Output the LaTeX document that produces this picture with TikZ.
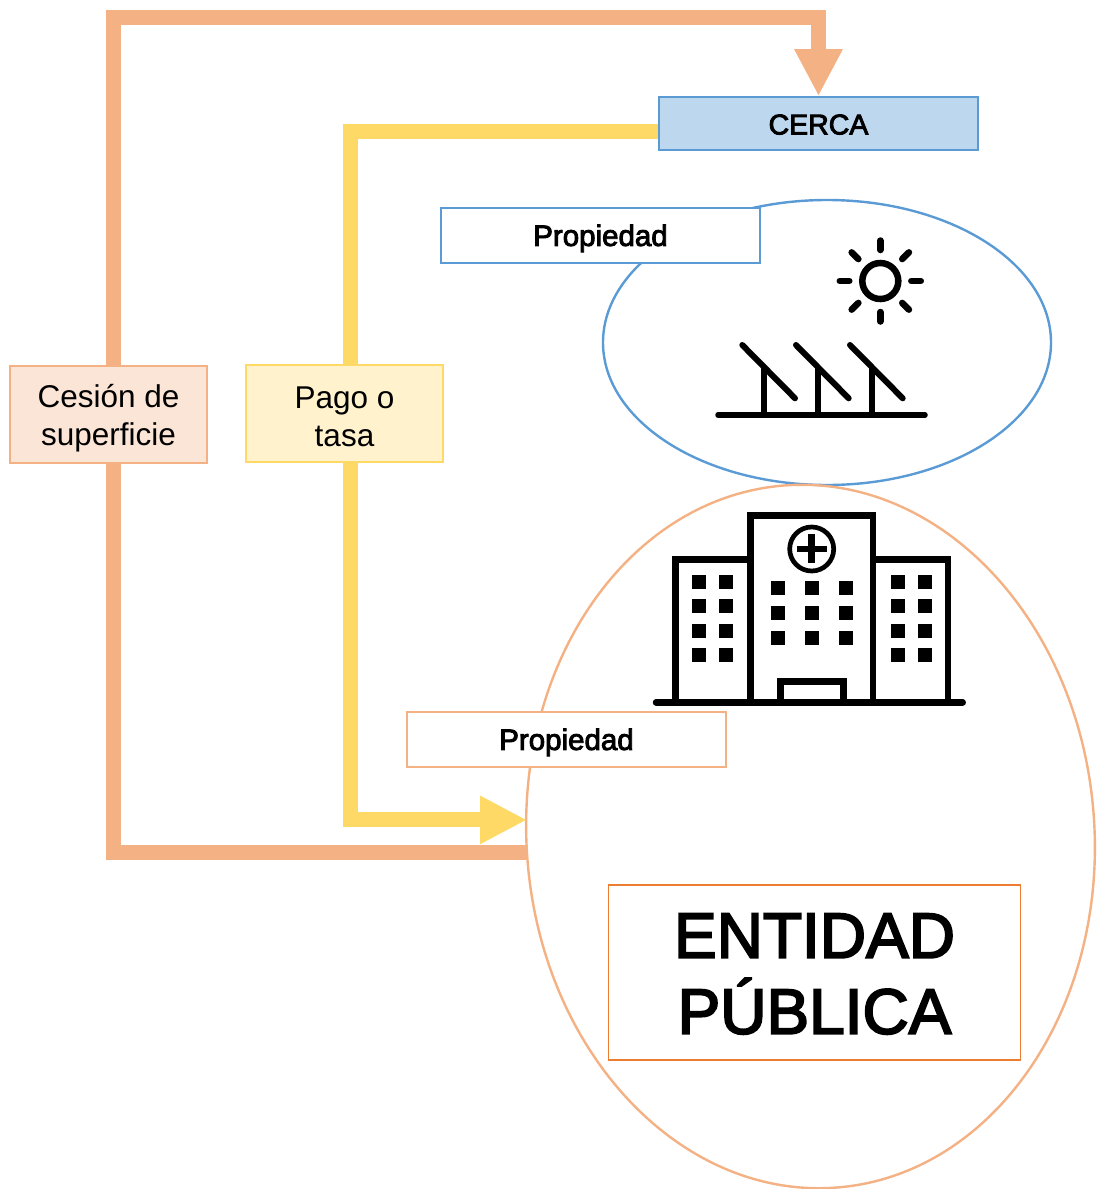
\documentclass[tikz,border=0pt]{standalone}
\usepackage{fontspec}
\usetikzlibrary{arrows.meta,shapes.geometric}
\setmainfont{Liberation Sans}
\newfontfamily\heavyfont[FakeBold=3]{Liberation Sans}
\definecolor{orangeLine}{HTML}{F4B183}
\definecolor{orangeFill}{HTML}{FBE5D6}
\definecolor{orangeDark}{HTML}{ED7D31}
\definecolor{yellowLine}{HTML}{FFD966}
\definecolor{yellowFill}{HTML}{FFF2CC}
\definecolor{blueLine}{HTML}{5B9BD5}
\definecolor{blueFill}{HTML}{BDD7EE}
\tikzset{
  box/.style={draw, line width=1.6pt, inner sep=0pt, align=center},
  smallLabel/.style={font=\heavyfont\fontsize{29.5}{34}\selectfont, text height=27pt},
  flowLabel/.style={font=\fontsize{31.5}{37.5}\selectfont, minimum width=197pt, minimum height=97pt, text height=68pt},
  flow/.style={line width=15pt},
  flowTip/.style={-{Triangle[length=47pt,width=45pt]}},
  icon/.style={line width=6.5pt, black}
}
\begin{document}
\begin{tikzpicture}[x=1pt,y=-1pt]

% Fix the size of the picture
\useasboundingbox (0,0) rectangle (1101,1189);

% Draw the two ellipses
\node[draw=blueLine, line width=2.4pt, ellipse, minimum width=448pt, minimum height=285pt] (solar) at (827,342.5) {};
\node[draw=orangeLine, line width=2.4pt, ellipse, minimum width=568pt, minimum height=704pt, rotate=4] (hospital) at (810.5,836.5) {};

% Draw the boxes
\node[box, smallLabel, draw=blueLine, fill=blueFill, minimum width=319pt, minimum height=53pt, font=\heavyfont\fontsize{28.5}{34}\selectfont, text height=22pt] (cerca) at (818.5,123.5) {CERCA};
\node[box, smallLabel, draw=blueLine, fill=white, minimum width=319pt, minimum height=55pt] (propSolar) at (600.5,235.5) {Propiedad};
\node[box, smallLabel, draw=orangeLine, fill=white, minimum width=319pt, minimum height=55pt] (propHospital) at (566.5,739.5) {Propiedad};
\node[box, flowLabel, draw=orangeLine, fill=orangeFill] (cesion) at (108.5,414.5) {Cesión de\\superficie};
\node[box, flowLabel, draw=yellowLine, fill=yellowFill, text height=66pt] (pago) at (344.5,413.5) {Pago o\\tasa};
\node[box, draw=orangeDark, minimum width=412pt, minimum height=175pt, font=\heavyfont\fontsize{64}{76}\selectfont, text height=123pt] (entidad) at (814.5,972.5) {ENTIDAD\\PÚBLICA};

% Corner of the long arrow at the top
\coordinate (topCorner) at (818.5,17);

% Orange arrows
\draw[flow, flowTip, orangeLine] ([xshift=5pt]cesion.north) |- (topCorner) -- (cerca.north);
\draw[flow, orangeLine] ([xshift=5pt]cesion.south) |- ([yshift=4pt]hospital.west);

% Yellow arrows
\draw[flow, yellowLine] ([yshift=-7.5pt]cerca.west) -| ([xshift=6pt]pago.north);
\draw[flow, flowTip, yellowLine] ([xshift=6pt]pago.south) |- ([xshift=1pt,yshift=36.5pt]hospital.west);

% Sun
\draw[icon] (880.3,281) circle (18);
\foreach \a in {0,45,...,315}
  \draw[icon, line cap=round] (880.3,281) ++(\a:31) -- ++(\a:9.5);

% Solar panels
\draw[icon, line width=5.5pt, line cap=round] (718,415) -- (925,415);
\foreach \dx in {0,53.7,107.7} {
  \draw[icon, line width=6pt, line cap=round] (742.3+\dx,345) -- (795+\dx,398.3);
  \draw[icon, line width=6pt] (764+\dx,368) -- (764+\dx,415);
}

% Hospital
\draw[icon, line cap=round] (656,702.3) -- (962.7,702.3);
\draw[icon] (750.7,702) -- (750.7,515.7) -- (873,515.7) -- (873,702);
\draw[icon] (750.7,559.7) -- (675.7,559.7) -- (675.7,702);
\draw[icon] (873,559.7) -- (948,559.7) -- (948,702);
\draw[icon, line width=7pt] (780,702) -- (780,681.7) -- (843.3,681.7) -- (843.3,702);

% Cross in the circle
\draw[icon, line width=4.7pt] (811.7,549) circle (22);
\draw[icon, line width=6.7pt] (811.7,534.3) -- (811.7,563.3);
\draw[icon, line width=6.7pt] (797,549) -- (826.7,549);

% Windows of the side wings
\foreach \wx in {698.8,726.2,897.7,925}
  \foreach \wy in {581.7,606.3,631,655.3}
    \fill[black] (\wx-6.85,\wy-6.85) rectangle (\wx+6.85,\wy+6.85);

% Windows of the centre
\foreach \wx in {777.7,811.7,846}
  \foreach \wy in {588.3,613,637.7}
    \fill[black] (\wx-6.85,\wy-6.85) rectangle (\wx+6.85,\wy+6.85);

\end{tikzpicture}
\end{document}
